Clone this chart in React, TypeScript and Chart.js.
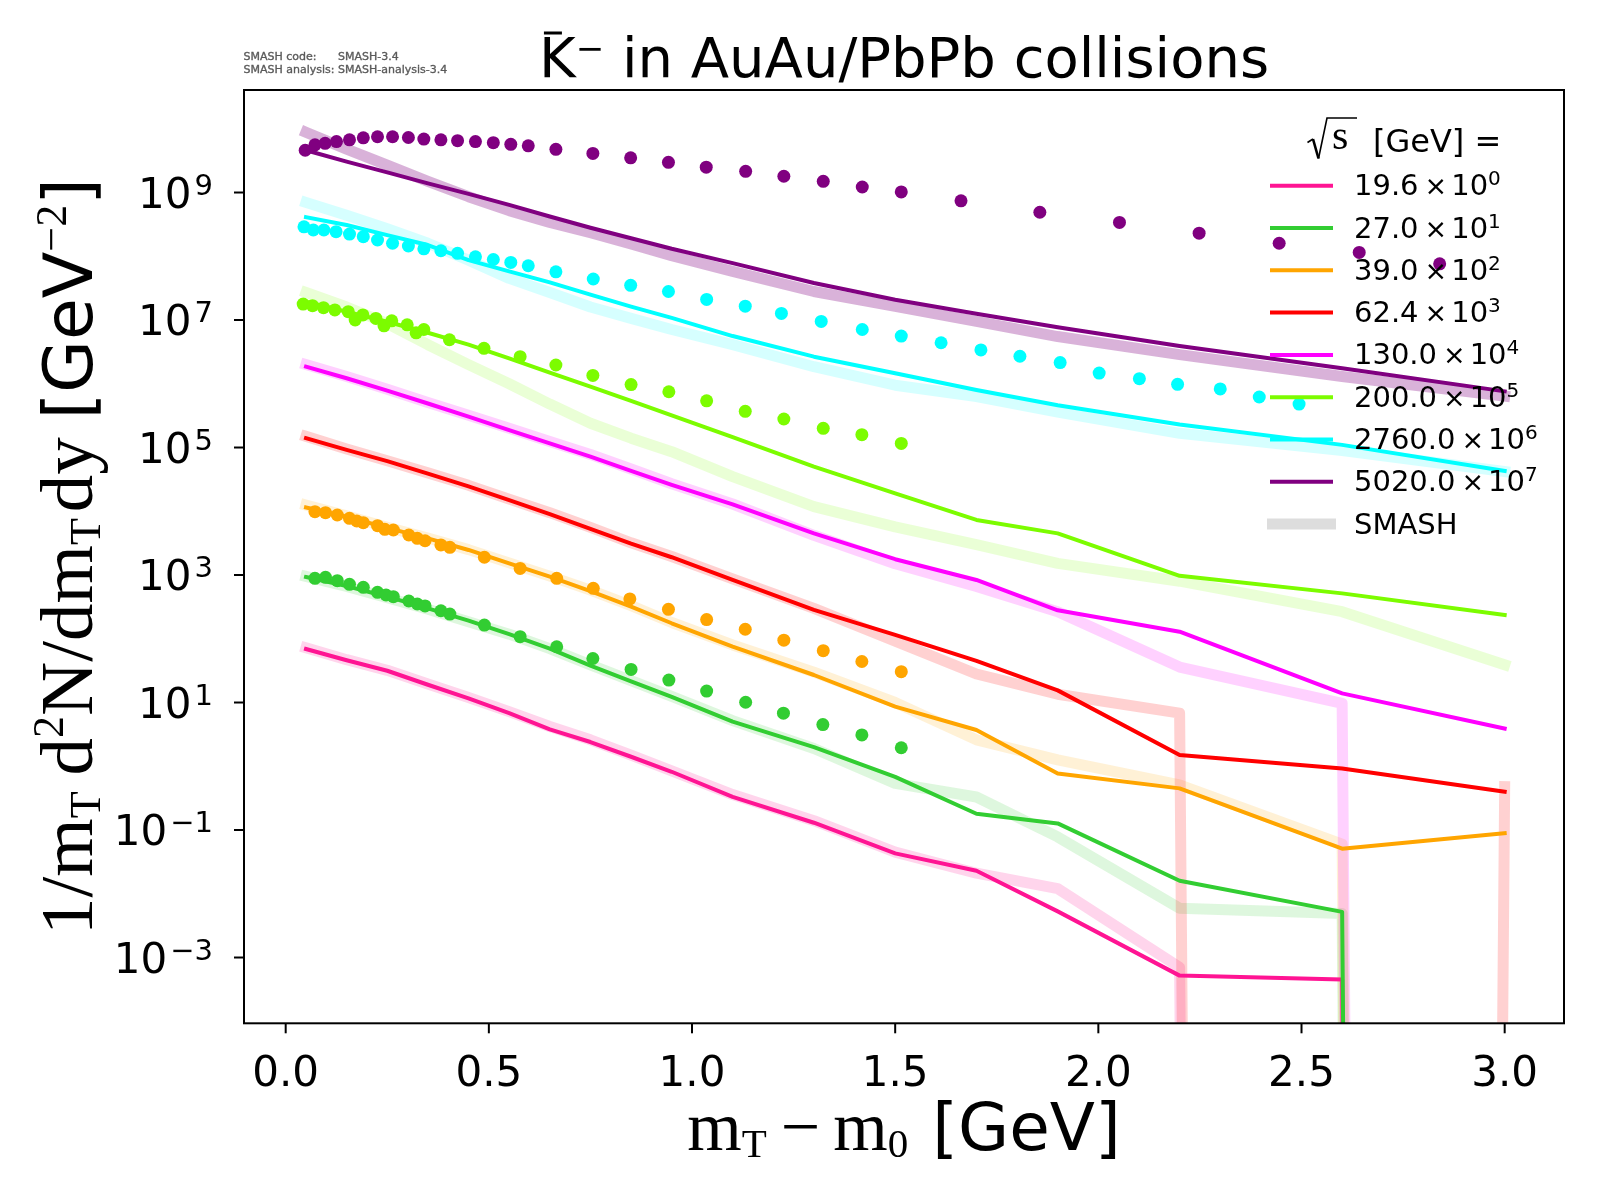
import { useEffect, useRef } from "react";
import { Chart, registerables } from "chart.js";
import type { ChartConfiguration, Plugin } from "chart.js";

Chart.register(...registerables);

// mT - m0 bin centres [GeV] of the model curves
const MT_BINS = [0.05, 0.15, 0.25, 0.35, 0.45, 0.55, 0.65, 0.75, 0.85, 0.95, 1.1, 1.3, 1.5, 1.7, 1.9, 2.2, 2.6, 3.0];

// solid curves, already scaled by the legend factor
const CURVE_19_6 = [69, 46, 31.5, 19, 11.6, 6.8, 3.8, 2.4, 1.41, 0.82, 0.33, 0.13, 0.043, 0.023, 0.0053, 5.2e-4, 4.5e-4, 0];
const CURVE_27 = [930, 670, 457, 300, 192, 118, 70, 38, 21.5, 12.3, 5.0, 2.0, 0.68, 0.18, 0.127, 0.016, 0.0052, 0];
const CURVE_39 = [11500, 8200, 5500, 3760, 2470, 1520, 940, 560, 320, 175, 75, 27, 8.6, 3.7, 0.77, 0.45, 0.051, 0.089];
const CURVE_62_4 = [1.4e5, 9.2e4, 6.1e4, 3.9e4, 2.45e4, 1.5e4, 9.0e3, 5.3e3, 3.1e3, 1.9e3, 840, 283, 115, 45, 15.5, 1.5, 0.92, 0.4];
const CURVE_130 = [1.85e6, 1.22e6, 7.8e5, 4.9e5, 3.05e5, 1.88e5, 1.16e5, 7.2e4, 4.3e4, 2.6e4, 1.28e4, 4.5e3, 1.77e3, 836, 280, 129, 13.9, 3.9];
const CURVE_200 = [1.94e7, 1.35e7, 9.4e6, 6.3e6, 4.1e6, 2.5e6, 1.5e6, 9.0e5, 5.4e5, 3.2e5, 1.45e5, 5.0e4, 1.91e4, 7.3e3, 4.5e3, 970, 515, 236];
const CURVE_2760 = [4.1e8, 3.1e8, 2.15e8, 1.5e8, 8.7e7, 5.8e7, 3.9e7, 2.5e7, 1.62e7, 1.08e7, 5.6e6, 2.66e6, 1.46e6, 8.0e5, 4.6e5, 2.3e5, 1.1e5, 4.3e4];
const CURVE_5020 = [4.6e9, 3.05e9, 2.07e9, 1.39e9, 9.5e8, 6.4e8, 4.2e8, 2.8e8, 1.92e8, 1.31e8, 7.8e7, 3.8e7, 2.08e7, 1.25e7, 7.7e6, 3.9e6, 1.75e6, 7.6e5];

// SMASH reference (wide pale bands), same binning; 0 = empty bin
const SMASH_19_6 = [72, 47, 32, 19.5, 12, 7.2, 4.2, 2.6, 1.5, 0.85, 0.36, 0.14, 0.045, 0.021, 0.012, 7.0e-4, 0, 0];
const SMASH_27 = [950, 660, 440, 290, 185, 118, 70, 39, 22, 12.5, 5.2, 1.9, 0.54, 0.33, 0.078, 0.0059, 0.0049, 0];
const SMASH_39 = [12500, 8500, 5600, 3800, 2500, 1550, 960, 580, 330, 180, 80, 30, 10, 2.6, 1.26, 0.51, 0.06, 0];
const SMASH_62_4 = [1.5e5, 9.5e4, 6.2e4, 4.0e4, 2.55e4, 1.55e4, 9.5e3, 5.6e3, 3.2e3, 1.95e3, 870, 300, 92, 28, 13.5, 6.8, 0, 0.48];
const SMASH_130 = [2.0e6, 1.3e6, 8.2e5, 5.1e5, 3.2e5, 2.0e5, 1.24e5, 7.8e4, 4.6e4, 2.7e4, 1.3e4, 4.2e3, 1.5e3, 660, 266, 36, 9.7, 0];
const SMASH_200 = [2.7e7, 1.6e7, 8.8e6, 4.1e6, 2.0e6, 1.0e6, 4.8e5, 2.4e5, 1.4e5, 8.6e4, 3.5e4, 1.18e4, 5.7e3, 3.0e3, 1.52e3, 800, 266, 39];
const SMASH_2760 = [7.0e8, 4.4e8, 2.7e8, 1.6e8, 8.7e7, 4.5e7, 2.7e7, 1.6e7, 1.06e7, 7.1e6, 4.1e6, 1.85e6, 9.5e5, 6.3e5, 3.6e5, 1.67e5, 9.0e4, 4.2e4];
const SMASH_5020 = [8.8e9, 4.8e9, 2.68e9, 1.5e9, 8.6e8, 5.2e8, 3.4e8, 2.34e8, 1.56e8, 1.02e8, 5.8e7, 2.8e7, 1.64e7, 9.5e6, 5.5e6, 2.86e6, 1.3e6, 6.4e5];

// measured points (dots)
const DATA_X_27 = [0.072, 0.098, 0.127, 0.157, 0.191, 0.226, 0.247, 0.265, 0.303, 0.324, 0.343, 0.382, 0.404, 0.489, 0.577, 0.667, 0.756, 0.85, 0.943, 1.036, 1.132, 1.225, 1.322, 1.418, 1.515];
const DATA_Y_27 = [887, 920, 815, 714, 641, 535, 486, 457, 391, 351, 327, 275, 244, 164, 108, 75, 49, 33, 22.5, 15.1, 10.1, 6.8, 4.5, 3.1, 1.95];

const DATA_X_39 = [0.072, 0.098, 0.127, 0.157, 0.175, 0.191, 0.226, 0.244, 0.265, 0.303, 0.324, 0.343, 0.382, 0.404, 0.489, 0.577, 0.667, 0.757, 0.847, 0.942, 1.036, 1.131, 1.226, 1.323, 1.418, 1.515];
const DATA_Y_39 = [9840, 9500, 8740, 7740, 7030, 6620, 5940, 5200, 5080, 4240, 3760, 3450, 2960, 2720, 1900, 1270, 887, 618, 421, 290, 200, 141, 95, 65, 44, 30.5];

const DATA_X_200 = [0.043, 0.066, 0.093, 0.121, 0.154, 0.171, 0.19, 0.222, 0.242, 0.261, 0.299, 0.321, 0.34, 0.403, 0.488, 0.577, 0.665, 0.756, 0.85, 0.943, 1.036, 1.131, 1.226, 1.323, 1.418, 1.515];
const DATA_Y_200 = [1.78e7, 1.68e7, 1.56e7, 1.44e7, 1.35e7, 1.0e7, 1.2e7, 1.06e7, 8.1e6, 9.7e6, 8.4e6, 6.3e6, 7.1e6, 4.9e6, 3.6e6, 2.66e6, 1.97e6, 1.35e6, 9.7e5, 7.5e5, 5.4e5, 3.7e5, 2.8e5, 2.0e5, 1.59e5, 1.16e5];

const DATA_X_2760 = [0.045, 0.068, 0.094, 0.124, 0.157, 0.191, 0.226, 0.263, 0.302, 0.34, 0.382, 0.423, 0.467, 0.511, 0.554, 0.597, 0.665, 0.757, 0.849, 0.942, 1.036, 1.131, 1.22, 1.318, 1.419, 1.515, 1.613, 1.711, 1.807, 1.906, 2.002, 2.101, 2.195, 2.3, 2.396, 2.494];
const DATA_Y_2760 = [2.9e8, 2.58e8, 2.58e8, 2.43e8, 2.23e8, 2.03e8, 1.8e8, 1.6e8, 1.45e8, 1.31e8, 1.22e8, 1.11e8, 9.8e7, 8.9e7, 8.0e7, 7.1e7, 5.7e7, 4.4e7, 3.5e7, 2.8e7, 2.1e7, 1.65e7, 1.27e7, 9.5e6, 7.1e6, 5.6e6, 4.4e6, 3.4e6, 2.7e6, 2.15e6, 1.47e6, 1.2e6, 9.8e5, 8.3e5, 6.2e5, 4.8e5];

const DATA_X_5020 = [0.048, 0.072, 0.097, 0.125, 0.157, 0.191, 0.226, 0.263, 0.302, 0.34, 0.382, 0.423, 0.467, 0.511, 0.554, 0.597, 0.665, 0.756, 0.849, 0.942, 1.035, 1.132, 1.226, 1.323, 1.419, 1.515, 1.662, 1.856, 2.052, 2.248, 2.445, 2.642, 2.84];
const DATA_Y_5020 = [4.6e9, 5.6e9, 5.9e9, 6.3e9, 6.7e9, 7.2e9, 7.5e9, 7.5e9, 7.3e9, 6.9e9, 6.7e9, 6.5e9, 6.3e9, 6.05e9, 5.7e9, 5.4e9, 4.75e9, 4.1e9, 3.5e9, 2.97e9, 2.5e9, 2.15e9, 1.8e9, 1.5e9, 1.22e9, 1.02e9, 7.4e8, 4.9e8, 3.4e8, 2.3e8, 1.6e8, 1.15e8, 7.6e7];

const ENERGY_LABELS = ["19.6", "27.0", "39.0", "62.4", "130.0", "200.0", "2760.0", "5020.0"];
const SCALE_EXPONENTS = [0, 1, 2, 3, 4, 5, 6, 7];
const X_TICKS = [0, 0.5, 1, 1.5, 2, 2.5, 3];
const Y_TICK_EXPONENTS = [-3, -1, 1, 3, 5, 7, 9];

const CURVES = [CURVE_19_6, CURVE_27, CURVE_39, CURVE_62_4, CURVE_130, CURVE_200, CURVE_2760, CURVE_5020];
const SMASH = [SMASH_19_6, SMASH_27, SMASH_39, SMASH_62_4, SMASH_130, SMASH_200, SMASH_2760, SMASH_5020];
const DATA: ([number[], number[]] | null)[] = [
  null,
  [DATA_X_27, DATA_Y_27],
  [DATA_X_39, DATA_Y_39],
  null,
  null,
  [DATA_X_200, DATA_Y_200],
  [DATA_X_2760, DATA_Y_2760],
  [DATA_X_5020, DATA_Y_5020],
];

const COLORS = [
  [255, 20, 147],
  [50, 205, 50],
  [255, 165, 0],
  [255, 0, 0],
  [255, 0, 255],
  [124, 252, 0],
  [0, 255, 255],
  [128, 0, 128],
];
const BAND_ALPHA = [0.18, 0.16, 0.16, 0.18, 0.18, 0.16, 0.16, 0.3];

const SANS = '"DejaVu Sans", sans-serif';
const SERIF = '"Liberation Serif", "DejaVu Serif", serif';

const rgba = (c: number[], a = 1) => `rgba(${c[0]},${c[1]},${c[2]},${a})`;
// like a log axis with nonpositive='clip': empty bins go far below the frame
const clipLog = (v: number) => (v > 0 ? v : 1e-300);
const toXY = (xs: number[], ys: number[]) => xs.map((x, i) => ({ x, y: clipLog(ys[i]) }));

type Run = { t: string; f: string; dy?: number; gap?: number };

function runsWidth(ctx: CanvasRenderingContext2D, runs: Run[]) {
  let w = 0;
  for (const r of runs) {
    ctx.font = r.f;
    w += ctx.measureText(r.t).width + (r.gap ?? 0);
  }
  return w;
}

function drawRuns(ctx: CanvasRenderingContext2D, runs: Run[], x: number, y: number) {
  let cx = x;
  for (const r of runs) {
    ctx.font = r.f;
    ctx.fillText(r.t, cx, y + (r.dy ?? 0));
    cx += ctx.measureText(r.t).width + (r.gap ?? 0);
  }
  return cx;
}

function seg(ctx: CanvasRenderingContext2D, x0: number, y0: number, x1: number, y1: number) {
  ctx.beginPath();
  ctx.moveTo(x0, y0);
  ctx.lineTo(x1, y1);
  ctx.stroke();
}

const decorations: Plugin<"scatter"> = {
  id: "decorations",
  afterDraw(chart) {
    const { ctx, chartArea: a } = chart;
    const xs = chart.scales.x;
    const ys = chart.scales.y;
    ctx.save();
    ctx.fillStyle = "#000";
    ctx.strokeStyle = "#000";
    ctx.textBaseline = "alphabetic";
    ctx.lineCap = "butt";

    // frame
    ctx.lineWidth = 2;
    ctx.strokeRect(a.left, a.top, a.right - a.left, a.bottom - a.top);

    // x ticks
    ctx.textAlign = "center";
    ctx.font = `42px ${SANS}`;
    for (const v of X_TICKS) {
      const px = xs.getPixelForValue(v);
      seg(ctx, px, a.bottom, px, a.bottom + 10);
      ctx.fillText(v.toFixed(1), px, a.bottom + 63);
    }

    // y ticks, labels as 10^n
    ctx.textAlign = "left";
    for (const e of Y_TICK_EXPONENTS) {
      const py = ys.getPixelForValue(10 ** e);
      seg(ctx, a.left - 10, py, a.left, py);
      const runs: Run[] = [
        { t: "10", f: `42px ${SANS}`, gap: 3 },
        { t: e < 0 ? `\u2212${-e}` : `${e}`, f: `29px ${SANS}`, dy: -13 },
      ];
      drawRuns(ctx, runs, a.left - 31 - runsWidth(ctx, runs), py + 15);
    }

    const midX = (a.left + a.right) / 2;
    const midY = (a.top + a.bottom) / 2;

    // x label
    const xl: Run[] = [
      { t: "m", f: `70px ${SERIF}` },
      { t: "T", f: `41px ${SERIF}`, dy: 7, gap: 14 },
      { t: "\u2212", f: `70px ${SERIF}`, gap: 13 },
      { t: "m", f: `70px ${SERIF}` },
      { t: "0", f: `41px ${SERIF}`, dy: 7, gap: 24 },
      { t: "[GeV]", f: `66px ${SANS}` },
    ];
    drawRuns(ctx, xl, midX - runsWidth(ctx, xl) / 2, 1150);

    // y label
    const yl: Run[] = [
      { t: "1/m", f: `75px ${SERIF}` },
      { t: "T", f: `44px ${SERIF}`, dy: 8, gap: 16 },
      { t: "d", f: `75px ${SERIF}` },
      { t: "2", f: `44px ${SERIF}`, dy: -29 },
      { t: "N/dm", f: `75px ${SERIF}` },
      { t: "T", f: `44px ${SERIF}`, dy: 8, gap: 6 },
      { t: "dy", f: `75px ${SERIF}`, gap: 18 },
      { t: "[GeV", f: `68px ${SANS}` },
      { t: "\u22122", f: `44px ${SERIF}`, dy: -26 },
      { t: "]", f: `68px ${SANS}` },
    ];
    ctx.save();
    ctx.translate(92, midY);
    ctx.rotate(-Math.PI / 2);
    drawRuns(ctx, yl, -runsWidth(ctx, yl) / 2, 0);
    ctx.restore();

    // title
    const tl: Run[] = [
      { t: "K", f: `56px ${SANS}` },
      { t: "\u2212", f: `34px ${SANS}`, dy: -17 },
      { t: " in AuAu/PbPb collisions", f: `56px ${SANS}` },
    ];
    const tx = midX - runsWidth(ctx, tl) / 2;
    drawRuns(ctx, tl, tx, 77);
    ctx.lineWidth = 3;
    seg(ctx, tx + 5, 33, tx + 23, 33);

    // version note
    ctx.fillStyle = "#5a5a5a";
    ctx.strokeStyle = "#5a5a5a";
    ctx.lineWidth = 0.35;
    ctx.font = `11px ${SANS}`;
    const col2 = 243.5 + ctx.measureText("SMASH analysis: ").width;
    const note: [string, number, number][] = [
      ["SMASH code:", 243.5, 59.5],
      ["SMASH-3.4", col2, 59.5],
      ["SMASH analysis:", 243.5, 72.5],
      ["SMASH-analysis-3.4", col2, 72.5],
    ];
    for (const [t, x, y] of note) {
      ctx.fillText(t, x, y);
      ctx.strokeText(t, x, y);
    }

    // legend
    ctx.fillStyle = "#000";
    ctx.strokeStyle = "#000";
    ctx.lineWidth = 1.6;
    seg(ctx, 1307.5, 142.5, 1313, 139);
    ctx.lineWidth = 2.6;
    seg(ctx, 1313, 139, 1318.5, 158.5);
    ctx.lineWidth = 1.6;
    ctx.beginPath();
    ctx.moveTo(1318.5, 158.5);
    ctx.lineTo(1327, 118);
    ctx.lineTo(1357, 118);
    ctx.stroke();
    ctx.font = `42px ${SERIF}`;
    ctx.fillText("s", 1332, 149);
    ctx.font = `32px ${SANS}`;
    ctx.fillText("[GeV] =", 1373, 152);

    const rowY = (i: number) => 185.7 + 42.3 * i;
    ENERGY_LABELS.forEach((lab, i) => {
      const cy = rowY(i);
      ctx.strokeStyle = rgba(COLORS[i]);
      ctx.lineWidth = 4;
      seg(ctx, 1270, cy, 1333, cy);
      drawRuns(
        ctx,
        [
          { t: lab, f: `29px ${SANS}`, gap: 6 },
          { t: "\u00d7", f: `27px ${SANS}`, gap: 4 },
          { t: "10", f: `29px ${SANS}` },
          { t: `${SCALE_EXPONENTS[i]}`, f: `20px ${SANS}`, dy: -10 },
        ],
        1354,
        cy + 9.5,
      );
    });
    const sy = rowY(ENERGY_LABELS.length);
    ctx.strokeStyle = "#dddddd";
    ctx.lineWidth = 11;
    seg(ctx, 1267, sy, 1336, sy);
    ctx.font = `29px ${SANS}`;
    ctx.fillText("SMASH", 1354, sy + 9.5);

    ctx.restore();
  },
};

export default function App() {
  const canvasRef = useRef<HTMLCanvasElement | null>(null);

  useEffect(() => {
    const canvas = canvasRef.current;
    if (!canvas) return;

    const dots: any[] = [];
    const curves: any[] = [];
    const bands: any[] = [];
    // later energies on top, as in the original stacking
    for (let i = CURVES.length - 1; i >= 0; i--) {
      const d = DATA[i];
      if (d) {
        dots.push({
          data: toXY(d[0], d[1]),
          showLine: false,
          pointRadius: 6.5,
          pointBorderWidth: 0,
          pointBackgroundColor: rgba(COLORS[i]),
          order: 0,
        });
      }
      curves.push({
        data: toXY(MT_BINS, CURVES[i]),
        showLine: true,
        pointRadius: 0,
        borderWidth: 4,
        borderColor: rgba(COLORS[i]),
        borderJoinStyle: "round",
        borderCapStyle: "square",
        clip: 0,
        order: 1,
      });
      bands.push({
        data: toXY(MT_BINS, SMASH[i]),
        showLine: true,
        pointRadius: 0,
        borderWidth: 11,
        borderColor: rgba(COLORS[i], BAND_ALPHA[i]),
        borderJoinStyle: "round",
        borderCapStyle: "square",
        clip: 0,
        order: 2,
      });
    }

    const config: ChartConfiguration<"scatter"> = {
      type: "scatter",
      data: { datasets: [...dots, ...curves, ...bands] },
      options: {
        responsive: false,
        animation: false,
        devicePixelRatio: 1,
        events: [],
        layout: { padding: { top: 90, right: 36, left: 0, bottom: 0 } },
        plugins: {
          legend: { display: false },
          tooltip: { enabled: false },
          title: { display: false },
        },
        scales: {
          x: {
            type: "linear",
            min: -0.1026,
            max: 3.146,
            ticks: { display: false },
            grid: { display: false },
            border: { display: false },
            afterFit: (s) => {
              s.height = 1200 - 1023.3;
            },
          },
          y: {
            type: "logarithmic",
            min: 10 ** -4.032,
            max: 10 ** 10.608,
            ticks: { display: false },
            grid: { display: false },
            border: { display: false },
            afterFit: (s) => {
              s.width = 244;
            },
          },
        },
      },
      plugins: [decorations],
    };

    const chart = new Chart(canvas, config);
    return () => {
      chart.destroy();
    };
  }, []);

  return (
    <div style={{ position: "absolute", left: 0, top: 0, width: 1600, height: 1200, background: "#fff" }}>
      <canvas ref={canvasRef} width={1600} height={1200} style={{ display: "block" }} />
    </div>
  );
}
